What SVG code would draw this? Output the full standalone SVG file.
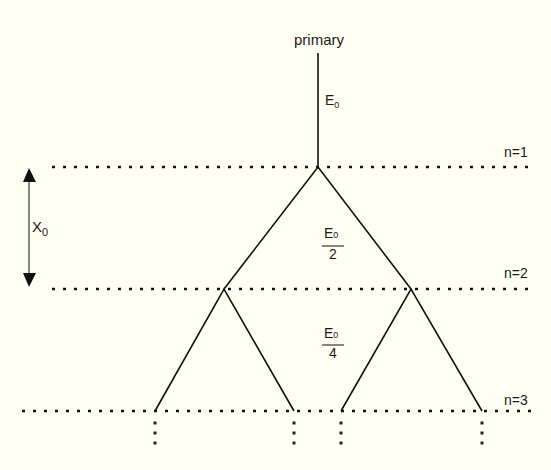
<svg xmlns="http://www.w3.org/2000/svg" width="551" height="470" viewBox="0 0 551 470">
<defs>
<style>
.t{font-family:"Liberation Sans",Arial,sans-serif;fill:#1a1a1a}
.lvl{stroke:#111;stroke-width:2.5;stroke-dasharray:3 8;fill:none}
.br{stroke:#111;stroke-width:1.6;fill:none}
.vd{fill:#222}
</style>
</defs>
<rect width="551" height="470" fill="#fffff3"/>
<g id="levels">
<line class="lvl" x1="52" y1="167" x2="535" y2="167"/>
<line class="lvl" x1="52" y1="289" x2="535" y2="289"/>
<line class="lvl" x1="22" y1="411" x2="535" y2="411"/>
<text class="t" x="504" y="157" font-size="14">n=1</text>
<text class="t" x="504" y="278" font-size="14">n=2</text>
<text class="t" x="504" y="405" font-size="14">n=3</text>
</g>
<g id="primary">
<text class="t" x="319" y="45" font-size="15" text-anchor="middle">primary</text>
</g>
<g id="connectors">
<line class="br" x1="318" y1="53" x2="318" y2="167"/>
<polyline class="br" points="224,289 318,167 411,289"/>
<polyline class="br" points="155,411 224,289 294,411"/>
<polyline class="br" points="341,411 411,289 482,411"/>
</g>
<g id="labels">
<text class="t" x="325" y="105" font-size="14">E<tspan font-size="9" dy="3">0</tspan></text>
<text class="t" x="324" y="238" font-size="14">E<tspan font-size="9" dy="0">0</tspan></text>
<line x1="322" y1="246" x2="344" y2="246" stroke="#111" stroke-width="1"/>
<text class="t" x="333" y="259" font-size="14" text-anchor="middle">2</text>
<text class="t" x="324" y="338" font-size="14">E<tspan font-size="9" dy="0">0</tspan></text>
<line x1="322" y1="345" x2="344" y2="345" stroke="#111" stroke-width="1"/>
<text class="t" x="333" y="358" font-size="14" text-anchor="middle">4</text>
</g>
<g id="x0">
<line x1="29" y1="178" x2="29" y2="277" stroke="#444" stroke-width="1.3"/>
<polygon points="29,168 23,182 36,182" fill="#111"/>
<polygon points="29,287 23,273 36,273" fill="#111"/>
<text class="t" x="32" y="232" font-size="15">X<tspan font-size="11" dy="4">0</tspan></text>
</g>
<g id="continuation">
<rect class="vd" x="153.5" y="421.5" width="3" height="3"/>
<rect class="vd" x="153.5" y="431.5" width="3" height="3"/>
<rect class="vd" x="153.5" y="441.5" width="3" height="3"/>
<rect class="vd" x="292.5" y="421.5" width="3" height="3"/>
<rect class="vd" x="292.5" y="431.5" width="3" height="3"/>
<rect class="vd" x="292.5" y="441.5" width="3" height="3"/>
<rect class="vd" x="339.5" y="421.5" width="3" height="3"/>
<rect class="vd" x="339.5" y="431.5" width="3" height="3"/>
<rect class="vd" x="339.5" y="441.5" width="3" height="3"/>
<rect class="vd" x="480.5" y="421.5" width="3" height="3"/>
<rect class="vd" x="480.5" y="431.5" width="3" height="3"/>
<rect class="vd" x="480.5" y="441.5" width="3" height="3"/>
</g>
</svg>
